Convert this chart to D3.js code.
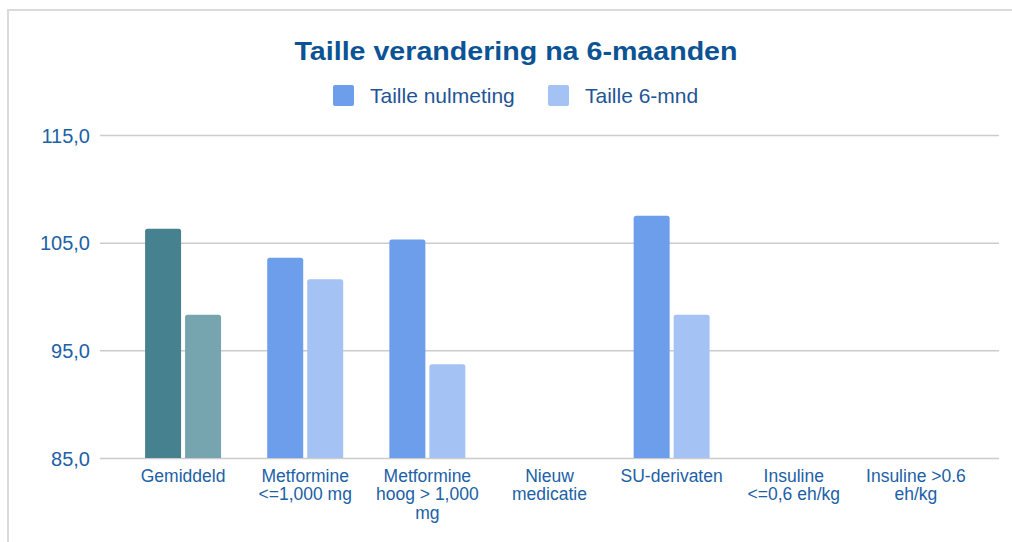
<!DOCTYPE html>
<html>
<head>
<meta charset="utf-8">
<script src="https://cdn.jsdelivr.net/npm/d3@7"></script>
<style>
  html, body { margin: 0; padding: 0; background: #fff; }
  svg { display: block; }
  text { font-family: "Liberation Sans", Arial, sans-serif; }
</style>
</head>
<body>
<svg id="chart" width="1012" height="542"></svg>
<script>
// ---- data ----
const categories = ["Gemiddeld", "Metformine <=1,000 mg", "Metformine hoog > 1,000 mg", "Nieuw medicatie", "SU-derivaten", "Insuline <=0,6 eh/kg", "Insuline >0.6 eh/kg"];
const categoryLines = [["Gemiddeld"], ["Metformine", "<=1,000 mg"], ["Metformine", "hoog > 1,000", "mg"], ["Nieuw", "medicatie"], ["SU-derivaten"], ["Insuline", "<=0,6 eh/kg"], ["Insuline >0.6", "eh/kg"]];
const seriesNames = ["Taille nulmeting", "Taille 6-mnd"];
const nulmeting = [106.3, 103.6, 105.3, null, 107.5, null, null];
const zesMnd = [98.3, 101.6, 93.7, null, 98.3, null, null];
const yTicks = [85, 95, 105, 115];
const yTickLabels = ["85,0", "95,0", "105,0", "115,0"];
const seriesColors = ["#6d9eeb", "#a4c2f4"];
const highlightColors = ["#45818e", "#76a5af"]; // used for "Gemiddeld"
const title = "Taille verandering na 6-maanden";

// ---- layout ----
const svg = d3.select("#chart");
const W = 1012, H = 542;
const plotLeft = 100, plotRight = 999;
const y = d3.scaleLinear().domain([85, 115]).range([458, 135]);
const x0 = d3.scaleBand().domain(categories).range([122, 977]).paddingInner(0.378).paddingOuter(0.189);
const x1 = d3.scaleBand().domain(seriesNames).range([0, x0.bandwidth()]).paddingInner(0.1);

// border
svg.append("line").attr("x1", 8).attr("x2", W).attr("y1", 10).attr("y2", 10)
  .attr("stroke", "#dadada").attr("stroke-width", 2);
svg.append("line").attr("x1", 8).attr("x2", 8).attr("y1", 9).attr("y2", H)
  .attr("stroke", "#dadada").attr("stroke-width", 2);

// title
svg.append("text").attr("x", 516).attr("y", 59.5).attr("text-anchor", "middle")
  .attr("font-size", 25).attr("font-weight", "bold").attr("fill", "#0b5394")
  .attr("textLength", 443).attr("lengthAdjust", "spacingAndGlyphs")
  .text(title);

// legend
const legendItems = [{ name: seriesNames[0], color: seriesColors[0], x: 333 }, { name: seriesNames[1], color: seriesColors[1], x: 548 }];
const lg = svg.append("g");
legendItems.forEach(d => {
  lg.append("rect").attr("x", d.x).attr("y", 85).attr("width", 21).attr("height", 21)
    .attr("rx", 2).attr("fill", d.color);
  lg.append("text").attr("x", d.x + 37).attr("y", 102.5).attr("font-size", 21)
    .attr("fill", "#1f5596").text(d.name);
});

// gridlines + y axis
const yAxis = d3.axisLeft(y).tickValues(yTicks).tickSize(-(plotRight - plotLeft))
  .tickFormat((d, i) => yTickLabels[i]);
const gy = svg.append("g").attr("transform", `translate(${plotLeft},0)`).call(yAxis);
gy.select(".domain").remove();
gy.selectAll(".tick line").attr("stroke", "#cccccc").attr("stroke-width", 1.5);
gy.selectAll(".tick text").attr("x", -10).attr("dy", "0.36em")
  .attr("font-size", 20).attr("fill", "#2061a6")
  .attr("font-family", "'Liberation Sans', Arial, sans-serif");

// bars
function topRounded(x, yTop, w, yBase, r) {
  r = Math.min(r, w / 2, (yBase - yTop) / 2);
  return `M${x},${yBase}V${yTop + r}Q${x},${yTop} ${x + r},${yTop}H${x + w - r}Q${x + w},${yTop} ${x + w},${yTop + r}V${yBase}Z`;
}
const rows = categories.map((c, i) => ({ cat: c, i, vals: [nulmeting[i], zesMnd[i]] }));
const groups = svg.append("g").selectAll("g").data(rows).join("g")
  .attr("transform", d => `translate(${x0(d.cat)},0)`);
groups.selectAll("path")
  .data(d => d.vals.map((v, k) => ({ v, k, i: d.i })).filter(e => e.v != null))
  .join("path")
  .attr("d", e => topRounded(x1(seriesNames[e.k]), y(e.v), x1.bandwidth(), y(85), 2.5))
  .attr("fill", e => (e.i === 0 ? highlightColors : seriesColors)[e.k]);

// x labels
const xl = svg.append("g");
categories.forEach((c, i) => {
  const cx = x0(c) + x0.bandwidth() / 2;
  const t = xl.append("text").attr("text-anchor", "middle").attr("font-size", 17.5)
    .attr("fill", "#2061a6");
  categoryLines[i].forEach((line, j) => {
    t.append("tspan").attr("x", cx).attr("y", 481.5 + j * 18.5).text(line);
  });
});
</script>
</body>
</html>
